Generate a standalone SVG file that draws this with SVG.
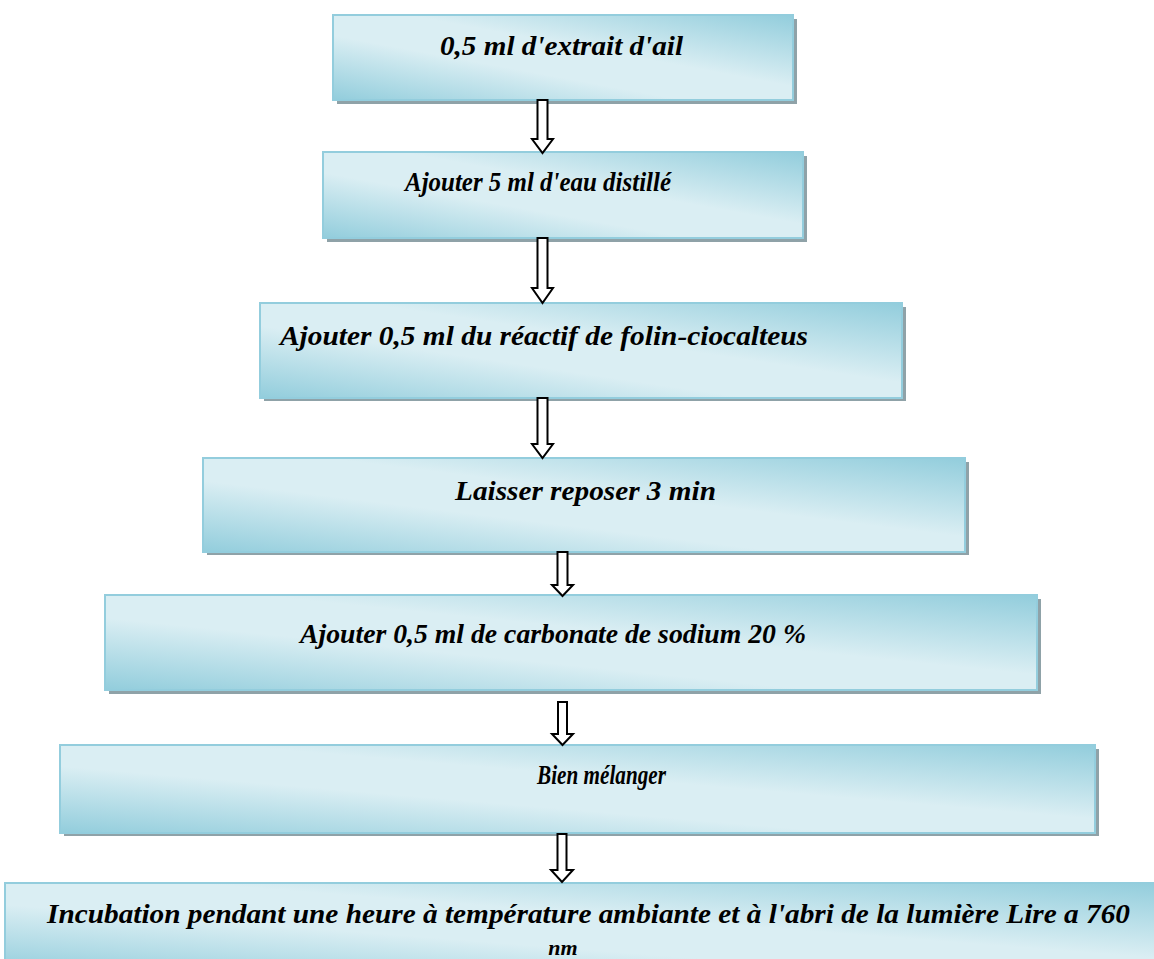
<svg xmlns="http://www.w3.org/2000/svg" width="1154" height="959" viewBox="0 0 1154 959">
<style>
.box{fill:url(#g);stroke:#93cddd;stroke-width:2}
.sh{fill:#8fa2a8}
.t{font-family:"Liberation Serif","Times New Roman",serif;font-weight:bold;font-style:italic;font-size:28px;fill:#000}
.nm{font-family:"Liberation Serif","Times New Roman",serif;font-weight:bold;font-style:italic;font-size:22px;fill:#000}
.arr{fill:#fff;stroke:#000;stroke-width:2;stroke-linejoin:miter}
</style>
<defs>
<linearGradient id="g" x1="1" y1="0" x2="0" y2="1">
<stop offset="0" stop-color="#92cddc"/>
<stop offset="0.42" stop-color="#daeef3"/>
<stop offset="0.62" stop-color="#daeef3"/>
<stop offset="1" stop-color="#92cddc"/>
</linearGradient>
</defs>
<rect width="1154" height="959" fill="#fff"/>
<g id="n1"><rect class="sh" x="337" y="19" width="460" height="85"/><rect class="box" x="333" y="15" width="460" height="85"/><text class="t" x="440" y="55" textLength="243" lengthAdjust="spacingAndGlyphs">0,5 ml d'extrait d'ail</text></g>
<g id="n2"><rect class="sh" x="327" y="156" width="480" height="86"/><rect class="box" x="323" y="152" width="480" height="86"/><text class="t" x="405" y="191" textLength="266" lengthAdjust="spacingAndGlyphs">Ajouter 5 ml d'eau distillé</text></g>
<g id="n3"><rect class="sh" x="264" y="307" width="642" height="94"/><rect class="box" x="260" y="303" width="642" height="95"/><text class="t" x="280" y="345" textLength="528" lengthAdjust="spacingAndGlyphs">Ajouter 0,5 ml du réactif de folin-ciocalteus</text></g>
<g id="n4"><rect class="sh" x="207" y="462" width="762" height="93"/><rect class="box" x="203" y="458" width="762" height="94"/><text class="t" x="455" y="500" textLength="261" lengthAdjust="spacingAndGlyphs">Laisser reposer 3 min</text></g>
<g id="n5"><rect class="sh" x="109" y="599" width="932" height="95"/><rect class="box" x="105" y="595" width="932" height="95"/><text class="t" x="300" y="643" textLength="506" lengthAdjust="spacingAndGlyphs">Ajouter 0,5 ml de carbonate de sodium 20 %</text></g>
<g id="n6"><rect class="sh" x="64" y="749" width="1035" height="87"/><rect class="box" x="60" y="745" width="1035" height="88"/><text class="t" x="537" y="784" textLength="129" lengthAdjust="spacingAndGlyphs">Bien mélanger</text></g>
<g id="n7"><rect class="box" x="5" y="883" width="1160" height="90"/><text class="t" x="47" y="923" textLength="1083" lengthAdjust="spacingAndGlyphs">Incubation pendant une heure à température ambiante et à l'abri de la lumière Lire a 760</text><text class="nm" x="563" y="955" text-anchor="middle">nm</text></g>
<g id="connectors">
<path class="arr" d="M537.5,100 H547.5 V139 H553 L542.5,153 L532,139 H537.5 Z"/>
<path class="arr" d="M537.5,238 H547.5 V288 H553 L542.5,303 L532,288 H537.5 Z"/>
<path class="arr" d="M537.5,398 H547.5 V444 H553 L542.5,458 L532,444 H537.5 Z"/>
<path class="arr" d="M557.5,552 H567.5 V585 H573 L562.5,596 L552,585 H557.5 Z"/>
<path class="arr" d="M558,702 H567 V734 H573 L562.5,745 L552,734 H558 Z"/>
<path class="arr" d="M557.5,834 H566.5 V870 H573 L562,882 L551,870 H557.5 Z"/>
</g>
</svg>
